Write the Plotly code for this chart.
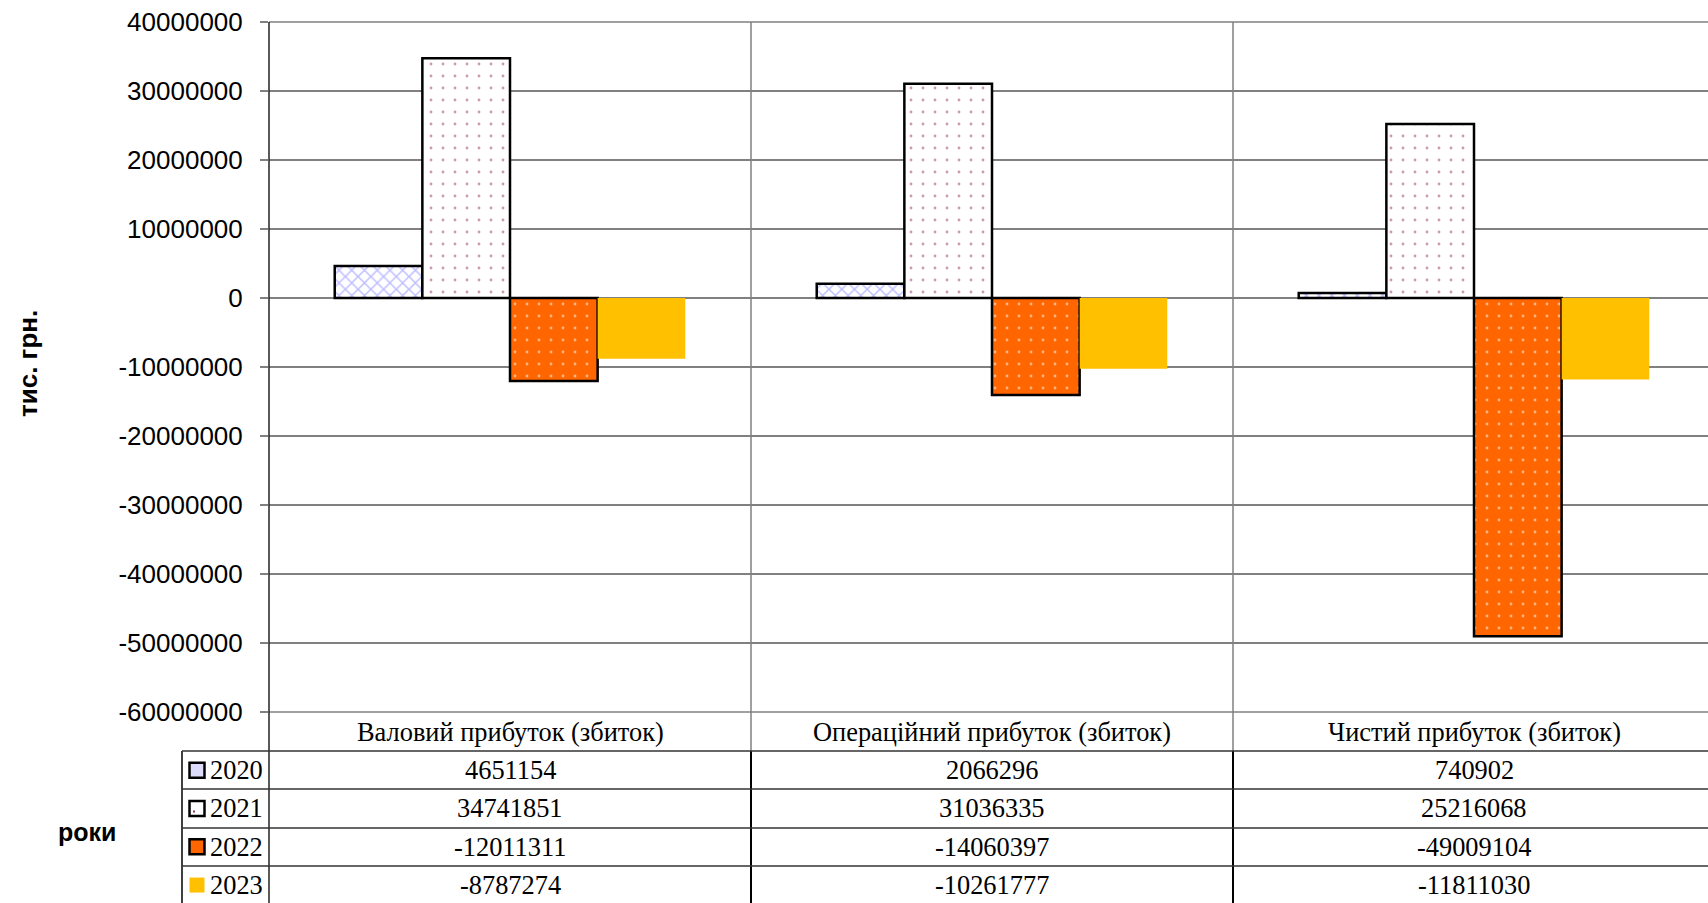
import plotly.graph_objects as go

# ---- data -------------------------------------------------------------
categories = ["Валовий прибуток (збиток)", "Операційний прибуток (збиток)", "Чистий прибуток (збиток)"]
years = ["2020", "2021", "2022", "2023"]
v2020 = [4651154, 2066296, 740902]
v2021 = [34741851, 31036335, 25216068]
v2022 = [-12011311, -14060397, -49009104]
v2023 = [-8787274, -10261777, -11811030]
y_ticks = [40000000, 30000000, 20000000, 10000000, 0, -10000000, -20000000,
           -30000000, -40000000, -50000000, -60000000]
y_title = "тис. грн."
table_title = "роки"

series = [v2020, v2021, v2022, v2023]

# ---- geometry (pixels) ------------------------------------------------
W, H = 1708, 903
PL, PT, PB = 269, 22, 712          # plot area left / top / bottom
CAT_W = 482                        # width of one category band
x_range = [-0.5, -0.5 + (W - PL) / CAT_W]
TABLE_L = 182                      # left edge of legend column
ROW_LINES = [751, 789, 828, 866]   # horizontal table rulings
ROW_H = 38.3


def px_x(p):
    return (p - PL) / (W - PL)


def px_y(p):
    return (PB - p) / (PB - PT)


def cat_x(v):
    return (v - x_range[0]) / (x_range[1] - x_range[0])


GRID = "#808080"
INK = "#000000"
SANS = "Liberation Sans, Arial, sans-serif"
SERIF = "Liberation Serif, Times New Roman, serif"

markers = [
    dict(color="white",
         pattern=dict(shape="x", fgcolor="#7a7aff", bgcolor="white", size=9, solidity=0.3),
         line=dict(color=INK, width=2.5)),
    dict(color="white",
         pattern=dict(shape=".", fgcolor="#993366", bgcolor="white", size=12, solidity=0.045),
         line=dict(color=INK, width=2.5)),
    dict(color="#ff6600",
         pattern=dict(shape=".", fgcolor="white", bgcolor="#ff6600", size=12, solidity=0.045),
         line=dict(color=INK, width=2.5)),
    dict(color="#ffc000", line=dict(color="#ffc000", width=0)),
]

fig = go.Figure()
for name, vals, mk in zip(years, series, markers):
    fig.add_trace(go.Bar(x=categories, y=vals, name=name, marker=mk,
                         showlegend=False, hoverinfo="x+y+name"))

shapes = []
annotations = []

# top and bottom rulings of the plot area
for y in (PT, PB):
    shapes.append(dict(type="line", xref="paper", yref="paper", x0=0, x1=1,
                       y0=px_y(y), y1=px_y(y), line=dict(color=GRID, width=1.5)))

# category separators: grey inside the plot, black through the table
for b in (0.5, 1.5):
    xb = cat_x(b)
    shapes.append(dict(type="line", xref="paper", yref="paper", x0=xb, x1=xb,
                       y0=px_y(PT), y1=px_y(ROW_LINES[0]), line=dict(color=GRID, width=1.5)))
    shapes.append(dict(type="line", xref="paper", yref="paper", x0=xb, x1=xb,
                       y0=px_y(ROW_LINES[0]), y1=px_y(H + 5), line=dict(color=INK, width=2)))

# y axis line continued down through the table
shapes.append(dict(type="line", xref="paper", yref="paper", x0=0, x1=0,
                   y0=px_y(PT), y1=px_y(H + 5), line=dict(color="#222222", width=1.5)))
# left edge of the legend column
shapes.append(dict(type="line", xref="paper", yref="paper", x0=px_x(TABLE_L), x1=px_x(TABLE_L),
                   y0=px_y(ROW_LINES[0]), y1=px_y(H + 5), line=dict(color=INK, width=1.5)))
# horizontal table rulings
for y in ROW_LINES:
    shapes.append(dict(type="line", xref="paper", yref="paper", x0=px_x(TABLE_L), x1=1,
                       y0=px_y(y), y1=px_y(y), line=dict(color="#333333", width=1.5)))

# category names row
for i, c in enumerate(categories):
    annotations.append(dict(text=c, xref="x", yref="paper", x=i, y=px_y((PB + ROW_LINES[0]) / 2),
                            showarrow=False, xanchor="center", yanchor="middle",
                            font=dict(family=SERIF, size=26.4, color=INK)))

# legend keys drawn as small swatches in the first column
key_fill = ["#dcdcfa", "white", "#ff6600", "#ffc000"]
key_line = [INK, INK, INK, None]
KEY_CX, KEY_S = 197, 15
for r, (name, vals) in enumerate(zip(years, series)):
    yc = ROW_LINES[0] + ROW_H * (r + 0.5)
    shapes.append(dict(type="rect", xref="paper", yref="paper",
                       x0=px_x(KEY_CX - KEY_S / 2), x1=px_x(KEY_CX + KEY_S / 2),
                       y0=px_y(yc - KEY_S / 2), y1=px_y(yc + KEY_S / 2),
                       fillcolor=key_fill[r],
                       line=dict(color=key_line[r] or key_fill[r], width=2.5 if key_line[r] else 0)))
    if r == 1:
        shapes.append(dict(type="rect", xref="paper", yref="paper",
                           x0=px_x(KEY_CX - 4), x1=px_x(KEY_CX - 2),
                           y0=px_y(yc + 2), y1=px_y(yc + 4),
                           fillcolor="#993366", line=dict(width=0)))
    annotations.append(dict(text=name, xref="paper", yref="paper", x=px_x(208), y=px_y(yc),
                            showarrow=False, xanchor="left", yanchor="middle",
                            font=dict(family=SERIF, size=26.4, color=INK)))
    for i, v in enumerate(vals):
        annotations.append(dict(text=str(v), xref="x", yref="paper", x=i, y=px_y(yc),
                                showarrow=False, xanchor="center", yanchor="middle",
                                font=dict(family=SERIF, size=26.4, color=INK)))

# axis title and table caption
annotations.append(dict(text=y_title, xref="paper", yref="paper", x=px_x(28), y=px_y(364),
                        textangle=-90, showarrow=False, xanchor="center", yanchor="middle",
                        font=dict(family=SANS, size=26, color=INK, weight="bold")))
annotations.append(dict(text=table_title, xref="paper", yref="paper", x=px_x(87), y=px_y(832),
                        showarrow=False, xanchor="center", yanchor="middle",
                        font=dict(family=SANS, size=25, color=INK, weight="bold")))

fig.update_layout(
    width=W, height=H,
    margin=dict(l=PL, r=0, t=PT, b=H - PB, pad=0),
    paper_bgcolor="white", plot_bgcolor="white",
    barmode="group", bargap=1.5 / 5.5, bargroupgap=0,
    xaxis=dict(type="category", range=x_range, showticklabels=False, ticks="",
               showgrid=False, zeroline=False, showline=False, fixedrange=True),
    yaxis=dict(range=[-60000000, 40000000], tickmode="array", tickvals=y_ticks,
               ticktext=[str(t) for t in y_ticks],
               tickfont=dict(family=SANS, size=26, color=INK),
               ticks="outside", ticklen=8, tickwidth=1.5, tickcolor=GRID,
               ticklabelstandoff=12,
               showgrid=True, gridcolor=GRID, gridwidth=1.5,
               zeroline=True, zerolinecolor=GRID, zerolinewidth=1.5,
               showline=False, fixedrange=True),
    shapes=shapes,
    annotations=annotations,
    showlegend=False,
)

fig.write_html("out.html")
